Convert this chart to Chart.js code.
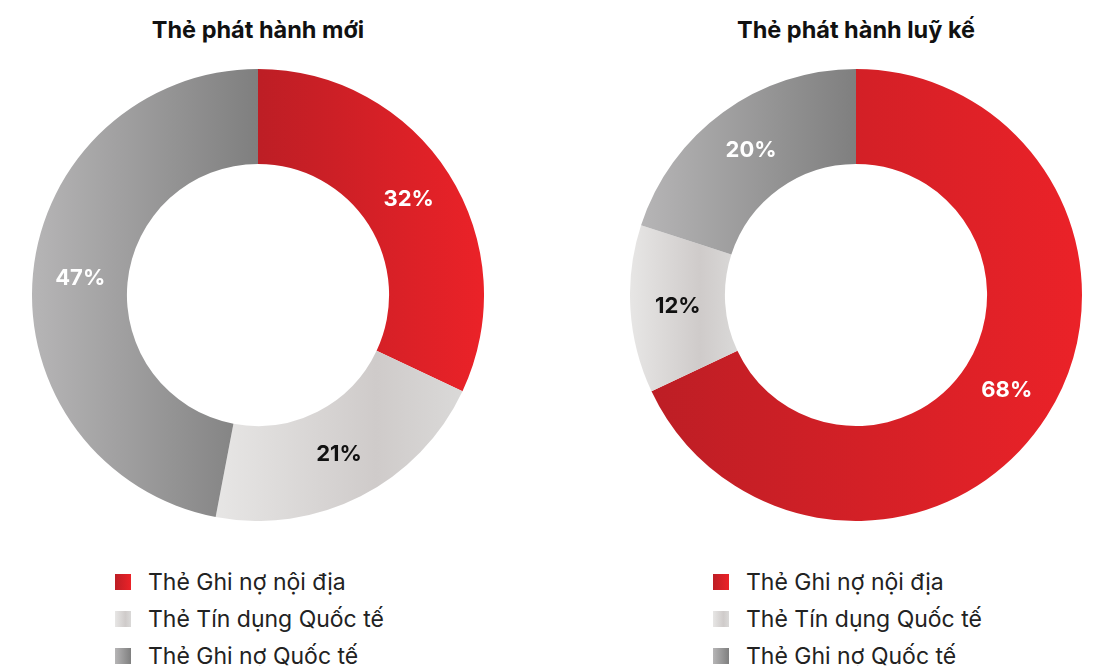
<!DOCTYPE html>
<html>
<head>
<meta charset="utf-8">
<script src="https://cdn.jsdelivr.net/npm/chart.js@4.4.1/dist/chart.umd.min.js"></script>
<style>
  html, body { margin: 0; padding: 0; background: #fff; }
  body { width: 1094px; height: 666px; position: relative; overflow: hidden; font-family: Inter, "Noto Sans", sans-serif; }
  .title { position: absolute; top: 14px; width: 452px; text-align: center; font-weight: 700; font-size: 23.5px; color: #111; line-height: 32px; }
  .box { position: absolute; top: 69px; width: 452px; height: 452px; }
  .legend { position: absolute; top: 566px; font-size: 23px; color: #222; }
  .legend div { height: 37px; line-height: 32px; white-space: nowrap; }
  .legend span.sw { display: inline-block; width: 16px; height: 16px; margin-right: 17px; vertical-align: 0px; }
</style>
</head>
<body>
<div class="title" style="left:32px">Thẻ phát hành mới</div>
<div class="title" style="left:630px">Thẻ phát hành luỹ kế</div>
<div class="box" style="left:32px"><canvas id="chart-new"></canvas></div>
<div class="box" style="left:630px"><canvas id="chart-total"></canvas></div>
<div class="legend" id="legend-new" style="left:115px"></div>
<div class="legend" id="legend-total" style="left:713px"></div>
<script>
// Data
const categories = ['Thẻ Ghi nợ nội địa', 'Thẻ Tín dụng Quốc tế', 'Thẻ Ghi nợ Quốc tế'];
const newCards = [32, 21, 47];
const totalCards = [68, 12, 20];

// gradient stops per category (left -> right)
const stops = [
    [[0, '#bd1e25'], [1, '#eb2228']],
    [[0, '#e7e6e5'], [0.65, '#cfcbca'], [1, '#dad9d8']],
    [[0, '#b6b5b6'], [1, '#7f7f7f']]
];
const labelColors = ['#ffffff', '#111111', '#ffffff'];

// paint each arc with a horizontal gradient across its own width
const gradientArcs = {
    id: 'gradientArcs',
    beforeDatasetsDraw(chart) {
        const ctx = chart.ctx;
        chart.getDatasetMeta(0).data.forEach(function(arc, i) {
            let minX = Infinity, maxX = -Infinity;
            for (let k = 0; k <= 60; k++) {
                const a = arc.startAngle + (arc.endAngle - arc.startAngle) * k / 60;
                [arc.outerRadius, arc.innerRadius].forEach(function(r) {
                    const x = arc.x + Math.cos(a) * r;
                    minX = Math.min(minX, x);
                    maxX = Math.max(maxX, x);
                });
            }
            const g = ctx.createLinearGradient(minX, 0, maxX, 0);
            stops[i].forEach(function(s) { g.addColorStop(s[0], s[1]); });
            arc.options = Object.assign({}, arc.options, { backgroundColor: g });
        });
    }
};

// percentage labels inside the ring
const arcLabels = {
    id: 'arcLabels',
    afterDatasetsDraw(chart) {
        const ctx = chart.ctx;
        const values = chart.data.datasets[0].data;
        ctx.save();
        ctx.font = '700 22px Inter, "Noto Sans", sans-serif';
        ctx.textAlign = 'center';
        ctx.textBaseline = 'middle';
        chart.getDatasetMeta(0).data.forEach(function(arc, i) {
            const p = arc.tooltipPosition();
            ctx.fillStyle = labelColors[i];
            ctx.fillText(values[i] + '%', p.x, p.y);
        });
        ctx.restore();
    }
};

function makeDoughnut(id, values) {
    return new Chart(document.getElementById(id), {
        type: 'doughnut',
        data: {
            labels: categories,
            datasets: [{
                data: values,
                backgroundColor: function(c) { return stops[c.dataIndex][0][1]; },
                borderWidth: 0,
                hoverOffset: 0,
                offset: 0
            }]
        },
        options: {
            responsive: true,
            maintainAspectRatio: false,
            animation: false,
            cutout: '58%',
            layout: { padding: 0 },
            plugins: {
                legend: { display: false },
                tooltip: { enabled: false }
            }
        },
        plugins: [gradientArcs, arcLabels]
    });
}

function makeLegend(id) {
    const el = document.getElementById(id);
    categories.forEach(function(name, i) {
        const row = document.createElement('div');
        const sw = document.createElement('span');
        sw.className = 'sw';
        sw.style.background = 'linear-gradient(to right, ' + stops[i].map(function(s) { return s[1] + ' ' + (s[0] * 100) + '%'; }).join(', ') + ')';
        row.appendChild(sw);
        row.appendChild(document.createTextNode(name));
        el.appendChild(row);
    });
}

makeDoughnut('chart-new', newCards);
makeDoughnut('chart-total', totalCards);
makeLegend('legend-new');
makeLegend('legend-total');
</script>
</body>
</html>
